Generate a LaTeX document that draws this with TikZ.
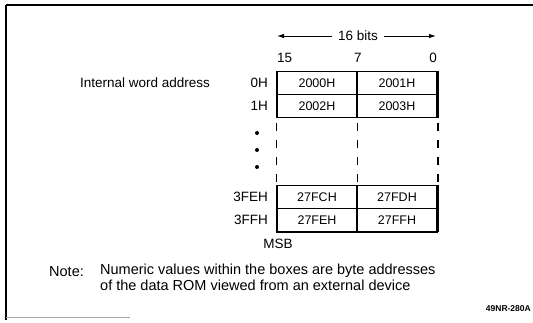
\documentclass[tikz,border=0pt]{standalone}
\usepackage{fontspec}
\setmainfont{Liberation Sans}
\usetikzlibrary{arrows.meta}
\begin{document}
\begin{tikzpicture}[x=1pt,y=-1pt,
  lbl/.style={font=\fontsize{13.5}{16}\selectfont, inner sep=0pt},
  cell/.style={draw, line width=1.3pt, minimum width=80pt, minimum height=23pt, inner sep=0pt, font=\fontsize{12.5}{15}\selectfont},
  dashv/.style={line width=1.5pt, dash pattern=on 8pt off 9pt},
  thickedge/.style={line width=2pt},
  frame/.style={line width=1.4pt},
  dotn/.style={circle, fill, inner sep=0pt, minimum size=4pt},
  arr/.style={line width=0.9pt, -{Latex[length=7pt,width=4.5pt]}}]
\useasboundingbox (0,0) rectangle (533,322);
% frame
\draw[frame] (6,5) -- (533,5);
\draw[frame] (6,5) -- (6,320);
\draw[line width=0.6pt, black!35] (6,317) -- (130,317);
% header
\node[lbl] (bits) at (358,36) {16 bits};
\coordinate (al) at (277,36);
\coordinate (ar) at (436,36);
\draw[arr] (bits.west) ++(-6,0) -- (al);
\draw[arr] (bits.east) ++(6,0) -- (ar);
\node[lbl, anchor=west] (b15) at (277,58) {15};
\node[lbl] (b7) at (358,58) {7};
\node[lbl, anchor=east] (b0) at (437,58) {0};
% upper rows
\node[cell] (c00) at (317,83) {2000H};
\node[cell] (c01) at (397,83) {2001H};
\node[cell] (c10) at (317,106) {2002H};
\node[cell] (c11) at (397,106) {2003H};
% lower rows
\node[cell] (c20) at (317,197) {27FCH};
\node[cell] (c21) at (397,197) {27FDH};
\node[cell] (c30) at (317,220) {27FEH};
\node[cell] (c31) at (397,220) {27FFH};
\draw[thickedge] (c01.north east) -- (c11.south east);
\draw[thickedge] (c21.north east) -- (c31.south east);
\draw[thickedge] (c30.south west) -- (c31.south east);
% dashed columns
\draw[dashv] ([yshift=12pt]c10.south west) -- ([yshift=-6pt]c20.north west);
\draw[dashv] ([yshift=12pt]c10.south east) -- ([yshift=-6pt]c20.north east);
\draw[dashv, line width=2pt] ([yshift=12pt]c11.south east) -- ([yshift=-6pt]c21.north east);
% dots
\node[dotn] (d1) at (257,133) {};
\node[dotn] (d2) at (257,150) {};
\node[dotn] (d3) at (257,167) {};
% row labels
\node[lbl, anchor=east] (r0) at (268,83) {0H};
\node[lbl, anchor=east] (r1) at (268,106) {1H};
\node[lbl, anchor=east] (r2) at (268,197) {3FEH};
\node[lbl, anchor=east] (r3) at (268,220) {3FFH};
\node[lbl, anchor=west] (iwa) at (80,83) {Internal word address};
\node[lbl] (msb) at (278,244) {MSB};
% note
\node[inner sep=0pt, anchor=west, font=\fontsize{14.5}{16}\selectfont] (note) at (49,272) {Note:};
\node[inner sep=0pt, anchor=north west, align=left, font=\fontsize{14.5}{15.5}\selectfont] (ntext) at (100,264) {Numeric values within the boxes are byte addresses\\of the data ROM viewed from an external device};
\node[inner sep=0pt, anchor=east, font=\fontsize{8.5}{10}\selectfont\bfseries] (fig) at (531,309) {49NR-280A};
\end{tikzpicture}
\end{document}
